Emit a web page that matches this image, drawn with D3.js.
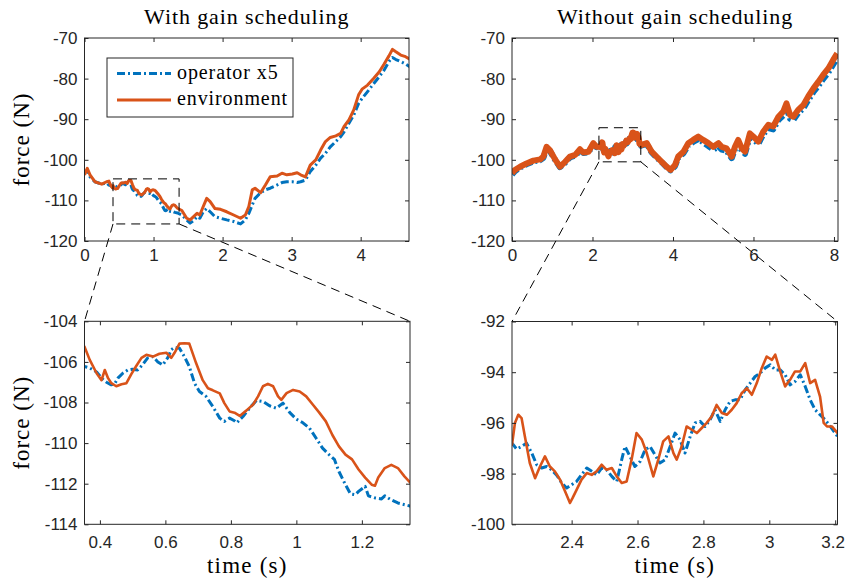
<!DOCTYPE html>
<html>
<head>
<meta charset="utf-8">
<script src="https://cdn.jsdelivr.net/npm/d3@7"></script>
<style>
body { margin: 0; background: #fff; }
svg { display: block; font-family: "Liberation Sans", Arial, sans-serif; }
.tex { font-family: "Liberation Serif", "Times New Roman", serif; fill: #000; }
</style>
</head>
<body>
<svg id="chart" width="846" height="581"></svg>
<script>
// ---- data (time s, force N) ----
const envWith = [[0,-103.7],[0.04,-102.1],[0.08,-103.7],[0.15,-105.4],[0.25,-106.0],[0.32,-105.4],
  [0.353,-105.25],[0.369,-105.9],[0.39,-106.56],[0.405,-106.9],[0.415,-106.4],[0.425,-106.8],[0.435,-107.05],
  [0.45,-107.2],[0.466,-107.1],[0.481,-107.05],[0.496,-106.6],[0.511,-106.2],[0.527,-105.8],[0.542,-105.65],
  [0.562,-105.74],[0.582,-105.6],[0.603,-105.55],[0.618,-105.8],[0.628,-105.55],[0.643,-105.1],[0.658,-105.08],
  [0.673,-105.1],[0.694,-106.07],[0.714,-106.9],[0.73,-107.3],[0.745,-107.4],[0.766,-107.55],[0.78,-108.03],
  [0.796,-108.44],[0.811,-108.5],[0.827,-108.66],[0.847,-108.4],[0.868,-108.1],[0.883,-107.7],[0.898,-107.2],
  [0.913,-107.08],[0.929,-107.2],[0.944,-107.7],[0.954,-107.87],[0.97,-107.54],[0.99,-107.38],[1.01,-107.46],
  [1.03,-107.7],[1.05,-108.1],[1.07,-108.5],[1.09,-108.93],[1.11,-109.6],[1.13,-110.16],[1.15,-110.57],
  [1.17,-110.8],[1.19,-111.3],[1.21,-111.7],[1.23,-112.05],[1.24,-112.1],[1.25,-111.7],[1.27,-111.23],
  [1.29,-111.07],[1.31,-111.23],[1.33,-111.64],[1.347,-111.93],
  [1.41,-112.5],[1.48,-114.4],[1.53,-114.8],[1.58,-114.0],[1.63,-113.2],[1.67,-113.6],[1.72,-111.5],[1.77,-109.5],
  [1.82,-110.3],[1.89,-112.0],[1.97,-112.2],[2.06,-112.8],[2.16,-113.6],[2.26,-114.4],[2.33,-113.6],[2.38,-111.5],
  [2.43,-107.4],[2.47,-107.0],[2.55,-108.1],[2.62,-106.2],[2.69,-104.2],[2.79,-104.0],[2.86,-103.3],[2.93,-103.7],
  [3.01,-103.5],[3.08,-103.2],[3.13,-103.7],[3.2,-104.2],[3.27,-101.3],[3.35,-100.0],[3.42,-97.6],[3.49,-95.5],
  [3.56,-94.5],[3.64,-94.1],[3.71,-93.5],[3.76,-91.8],[3.83,-90.2],[3.9,-87.7],[3.97,-84.0],[4.02,-82.6],
  [4.1,-81.6],[4.19,-79.9],[4.27,-78.3],[4.34,-76.4],[4.41,-74.4],[4.46,-72.8],[4.51,-73.4],[4.58,-74.2],
  [4.65,-74.6],[4.72,-75.3]];

const opWith = [[0,-103.3],[0.04,-102.5],[0.08,-104.2],[0.15,-105.4],[0.25,-106.0],[0.32,-105.7],
  [0.353,-106.23],[0.369,-106.3],[0.39,-106.5],[0.405,-106.8],[0.42,-107.0],[0.435,-107.13],[0.445,-107.08],
  [0.455,-106.8],[0.47,-106.56],[0.485,-106.4],[0.5,-106.36],[0.515,-106.4],[0.53,-106.15],[0.546,-105.8],
  [0.562,-105.74],[0.577,-106.0],[0.592,-106.15],[0.607,-105.8],[0.618,-105.4],[0.628,-105.28],[0.643,-105.33],
  [0.658,-105.74],[0.673,-106.23],[0.689,-107.05],[0.704,-107.46],[0.724,-107.7],[0.745,-108.2],[0.766,-108.77],
  [0.78,-108.93],[0.796,-108.77],[0.811,-108.9],[0.818,-109.0],[0.837,-108.69],[0.857,-108.28],[0.878,-107.9],
  [0.898,-107.95],[0.918,-108.16],[0.939,-108.28],[0.959,-108.03],[0.98,-108.5],[1.0,-108.82],[1.02,-109.0],
  [1.04,-109.26],[1.06,-109.75],[1.08,-110.25],[1.1,-110.57],[1.116,-110.8],[1.13,-111.4],[1.15,-112.05],
  [1.165,-112.5],[1.18,-112.54],[1.19,-112.38],[1.21,-112.13],[1.22,-112.6],[1.24,-112.7],[1.26,-112.75],
  [1.27,-112.6],[1.29,-112.8],[1.31,-112.95],[1.347,-113.1],
  [1.41,-113.6],[1.48,-114.8],[1.53,-115.6],[1.58,-115.0],[1.63,-114.0],[1.67,-114.4],[1.72,-112.8],[1.77,-112.0],
  [1.82,-112.8],[1.89,-114.0],[1.97,-114.4],[2.06,-114.8],[2.16,-115.2],[2.26,-115.8],[2.33,-114.8],[2.38,-113.2],
  [2.43,-111.1],[2.47,-109.5],[2.55,-108.1],[2.62,-107.4],[2.69,-107.0],[2.79,-106.2],[2.86,-105.6],[2.93,-105.4],
  [3.01,-105.4],[3.08,-105.6],[3.13,-105.4],[3.2,-105.0],[3.27,-102.9],[3.35,-101.3],[3.42,-99.6],[3.49,-98.4],
  [3.56,-96.8],[3.64,-95.5],[3.71,-94.3],[3.76,-93.1],[3.83,-91.0],[3.9,-89.0],[3.97,-86.1],[4.02,-84.9],
  [4.1,-83.2],[4.19,-81.2],[4.27,-79.5],[4.34,-77.9],[4.41,-75.8],[4.46,-74.8],[4.51,-75.3],[4.58,-75.8],
  [4.65,-76.4],[4.72,-77.2]];

const envWithout = [[0,-103.3],[0.07,-102.5],[0.2,-101.7],[0.36,-100.9],[0.53,-100.2],[0.7,-99.9],[0.78,-99.2],
  [0.86,-96.8],[0.94,-97.6],[1.07,-99.9],[1.19,-101.7],[1.32,-100.5],[1.44,-99.2],[1.57,-98.8],[1.69,-97.4],
  [1.77,-98.2],[1.9,-98.0],[2.02,-95.9],[2.1,-96.8],
  [2.219,-96.86],[2.228,-96.0],[2.238,-95.68],[2.248,-95.81],[2.258,-96.53],[2.273,-97.58],[2.289,-98.18],
  [2.304,-97.72],[2.319,-97.32],[2.334,-97.72],[2.349,-97.91],[2.365,-98.24],[2.38,-98.7],[2.395,-99.16],
  [2.403,-98.96],[2.415,-98.64],[2.43,-98.24],[2.446,-97.98],[2.461,-98.05],[2.476,-97.91],[2.491,-97.65],
  [2.506,-97.85],[2.522,-97.78],[2.537,-98.11],[2.552,-98.37],[2.567,-98.31],[2.582,-97.45],[2.597,-96.4],
  [2.613,-96.66],[2.628,-97.19],[2.648,-98.11],[2.663,-97.45],[2.678,-96.73],[2.694,-96.53],[2.709,-97.19],
  [2.719,-97.45],[2.734,-96.93],[2.749,-96.14],[2.765,-96.27],[2.78,-96.4],[2.795,-96.2],[2.81,-96.0],
  [2.825,-95.75],[2.84,-95.29],[2.856,-95.61],[2.871,-95.68],[2.886,-95.48],[2.901,-95.22],[2.916,-94.83],
  [2.932,-94.63],[2.947,-94.89],[2.962,-94.43],[2.977,-93.84],[2.992,-93.38],[3.008,-93.51],[3.018,-93.31],
  [3.033,-93.97],[3.048,-94.56],[3.063,-94.3],[3.078,-93.97],[3.094,-93.97],[3.109,-93.64],[3.124,-94.43],
  [3.139,-94.3],[3.154,-94.96],[3.165,-96.0],[3.175,-96.14],[3.19,-96.14],[3.207,-96.4],
  [3.35,-95.9],[3.47,-98.0],[3.59,-99.2],[3.72,-100.5],[3.84,-101.7],[3.94,-102.5],[4.05,-101.3],[4.13,-99.2],
  [4.26,-98.0],[4.38,-95.9],[4.5,-95.1],[4.63,-94.3],[4.75,-95.1],[4.88,-95.9],[5.0,-96.8],[5.13,-95.9],
  [5.21,-96.8],[5.33,-97.2],[5.46,-99.2],[5.54,-96.8],[5.62,-95.1],[5.71,-97.2],[5.79,-98.0],[5.91,-93.5],
  [6.0,-94.3],[6.12,-95.5],[6.24,-93.1],[6.37,-91.4],[6.49,-91.8],[6.62,-89.4],[6.74,-88.1],[6.82,-86.1],
  [6.91,-89.0],[6.99,-89.4],[7.11,-87.7],[7.24,-86.5],[7.36,-84.4],[7.49,-82.4],[7.61,-80.8],[7.73,-79.1],
  [7.86,-77.5],[7.98,-75.4],[8.08,-73.8]];

const opWithout = [[0,-103.6],[0.07,-102.8],[0.2,-101.9],[0.36,-101.1],[0.53,-100.4],[0.7,-100.1],[0.78,-99.5],
  [0.86,-97.2],[0.94,-97.8],[1.07,-100.0],[1.19,-101.8],[1.32,-100.7],[1.44,-99.4],[1.57,-99.0],[1.69,-97.7],
  [1.77,-98.3],[1.9,-98.2],[2.02,-96.2],[2.1,-96.9],
  [2.219,-96.8],[2.233,-97.03],[2.248,-96.93],[2.263,-96.8],[2.279,-97.19],[2.294,-97.65],[2.309,-97.78],
  [2.324,-97.72],[2.339,-97.85],[2.354,-98.05],[2.37,-98.37],[2.385,-98.57],[2.4,-98.44],[2.415,-98.31],
  [2.43,-98.05],[2.446,-97.78],[2.461,-97.91],[2.476,-98.05],[2.491,-97.78],[2.506,-97.85],[2.522,-98.11],
  [2.537,-98.31],[2.552,-97.45],[2.562,-96.93],[2.577,-97.32],[2.592,-97.72],[2.608,-97.52],[2.623,-97.06],
  [2.638,-96.93],[2.653,-97.26],[2.668,-97.58],[2.684,-97.45],[2.699,-96.93],[2.714,-96.4],[2.729,-96.66],
  [2.744,-97.19],[2.76,-96.53],[2.775,-96.0],[2.79,-95.94],[2.805,-96.14],[2.82,-95.88],[2.835,-95.48],
  [2.851,-95.94],[2.866,-95.48],[2.881,-95.15],[2.896,-95.09],[2.911,-95.09],[2.927,-94.69],[2.942,-94.43],
  [2.957,-94.17],[2.972,-94.04],[2.987,-93.84],[3.003,-93.71],[3.018,-93.91],[3.033,-93.91],[3.048,-94.1],
  [3.063,-94.5],[3.078,-94.37],[3.094,-94.1],[3.109,-94.56],[3.124,-95.09],[3.139,-95.48],[3.154,-95.68],
  [3.17,-95.88],[3.185,-96.14],[3.207,-96.53],
  [3.35,-96.1],[3.47,-98.2],[3.59,-99.4],[3.72,-100.6],[3.84,-101.8],[3.94,-102.6],[4.05,-101.6],[4.13,-99.5],
  [4.26,-98.4],[4.38,-96.4],[4.5,-95.6],[4.63,-94.9],[4.75,-95.7],[4.88,-96.6],[5.0,-97.5],[5.13,-96.7],
  [5.21,-97.5],[5.33,-97.8],[5.46,-99.6],[5.54,-97.4],[5.62,-95.7],[5.71,-97.8],[5.79,-98.5],[5.91,-94.2],
  [6.0,-94.9],[6.12,-96.1],[6.24,-93.8],[6.37,-92.2],[6.49,-92.5],[6.62,-90.2],[6.74,-89.1],[6.82,-87.2],
  [6.91,-89.9],[6.99,-90.2],[7.11,-88.5],[7.24,-87.3],[7.36,-85.3],[7.49,-83.3],[7.61,-81.8],[7.73,-80.1],
  [7.86,-78.5],[7.98,-76.5],[8.08,-74.9]];

// axis limits and ticks
const xLimWith = [0, 4.7];
const xLimWithout = [0, 8.1];
const yLimFull = [-120, -70];
const xLimZoomWith = [0.353, 1.347];
const yLimZoomWith = [-114, -104];
const xLimZoomWithout = [2.219, 3.207];
const yLimZoomWithout = [-100, -92];

const xTicksWith = [0, 1, 2, 3, 4];
const xTicksWithout = [0, 2, 4, 6, 8];
const yTicksFull = [-120, -110, -100, -90, -80, -70];
const xTicksZoomWith = [0.4, 0.6, 0.8, 1, 1.2];
const yTicksZoomWith = [-114, -112, -110, -108, -106, -104];
const xTicksZoomWithout = [2.4, 2.6, 2.8, 3, 3.2];
const yTicksZoomWithout = [-100, -98, -96, -94, -92];

// dashed zoom boxes drawn on the upper plots
const boxWith = { x: [0.413, 1.37], y: [-115.8, -104.7] };
const boxWithout = { x: [2.16, 3.2], y: [-100.5, -92.1] };

const seriesNames = ["operator x5", "environment"];
const titles = ["With gain scheduling", "Without gain scheduling"];

const BLUE = "#0072BD", ORANGE = "#D95319", AX = "#262626";
const W = 846;

const svg = d3.select("#chart");
const fmt = d => String(+(+d).toFixed(2));

function panel(id, box, xLim, yLim, xTicks, yTicks, op, env, opts) {
    const x = d3.scaleLinear().domain(xLim).range([box.left, box.right]);
    const y = d3.scaleLinear().domain(yLim).range([box.bottom, box.top]);
    const g = svg.append("g").attr("class", "panel-" + id);

    g.append("clipPath").attr("id", "clip-" + id)
        .append("rect")
        .attr("x", box.left).attr("y", box.top)
        .attr("width", box.right - box.left).attr("height", box.bottom - box.top);

    const line = d3.line().x(d => x(d[0])).y(d => y(d[1]));
    const lines = g.append("g").attr("clip-path", `url(#clip-${id})`);
    lines.append("path").datum(op)
        .attr("d", line).attr("fill", "none")
        .attr("stroke", BLUE).attr("stroke-width", opts.opWidth)
        .attr("stroke-dasharray", opts.dash).attr("stroke-linejoin", "round");
    lines.append("path").datum(env)
        .attr("d", line).attr("fill", "none")
        .attr("stroke", ORANGE).attr("stroke-width", opts.envWidth)
        .attr("stroke-linejoin", "round");

    // MATLAB-like boxed axes, ticks pointing inward on all sides
    const tick = 4;
    const axes = [
        [d3.axisBottom(x).tickValues(xTicks).tickFormat(fmt).tickPadding(opts.xPad), `translate(0,${box.bottom})`],
        [d3.axisTop(x).tickValues(xTicks).tickFormat(""), `translate(0,${box.top})`],
        [d3.axisLeft(y).tickValues(yTicks).tickFormat(fmt).tickPadding(7), `translate(${box.left},0)`],
        [d3.axisRight(y).tickValues(yTicks).tickFormat(""), `translate(${box.right},0)`]
    ];
    axes.forEach(([ax, tr]) => {
        const a = g.append("g").attr("transform", tr)
            .call(ax.tickSizeInner(-tick).tickSizeOuter(0));
        a.select(".domain").remove();
        a.selectAll("line").attr("stroke", AX);
        a.selectAll("text").attr("fill", AX).style("font-size", "17px");
    });
    g.append("rect")
        .attr("x", box.left).attr("y", box.top)
        .attr("width", box.right - box.left).attr("height", box.bottom - box.top)
        .attr("fill", "none").attr("stroke", AX).attr("stroke-width", 1);

    // keep the last x label inside the page (it sits right at the edge)
    g.selectAll(".tick text").each(function () {
        const bb = this.getBBox();
        const tx = +this.parentNode.getAttribute("transform").match(/translate\(([-\d.]+)/)[1];
        const over = tx + bb.x + bb.width - (W - 1);
        if (over > 0) d3.select(this).attr("dx", -over);
    });

    return { x, y, box, g };
}

const tl = panel("tl", { left: 84.5, right: 409, top: 38, bottom: 241 }, xLimWith, yLimFull,
    xTicksWith, yTicksFull, opWith, envWith, { opWidth: 3, envWidth: 3, dash: "8,3,2,3", xPad: 8 });
const tr = panel("tr", { left: 512, right: 838, top: 38, bottom: 241 }, xLimWithout, yLimFull,
    xTicksWithout, yTicksFull, opWithout, envWithout, { opWidth: 6, envWidth: 6, dash: "8,3,2,3", xPad: 8 });
const bl = panel("bl", { left: 84.5, right: 410, top: 321.3, bottom: 524.3 }, xLimZoomWith, yLimZoomWith,
    xTicksZoomWith, yTicksZoomWith, opWith, envWith, { opWidth: 3, envWidth: 2.6, dash: "8,3,2,3", xPad: 12 });
const br = panel("br", { left: 512, right: 837.5, top: 321.5, bottom: 524.3 }, xLimZoomWithout, yLimZoomWithout,
    xTicksZoomWithout, yTicksZoomWithout, opWithout, envWithout, { opWidth: 3, envWidth: 2.6, dash: "8,3,2,3", xPad: 12 });

// titles and axis labels
[[tl, titles[0]], [tr, titles[1]]].forEach(([p, t]) => {
    svg.append("text").attr("class", "tex")
        .attr("x", (p.box.left + p.box.right) / 2).attr("y", 24)
        .attr("text-anchor", "middle").style("font-size", "22px").style("letter-spacing", "0.9px")
        .text(t);
});
[tl, bl].forEach(p => {
    svg.append("text").attr("class", "tex")
        .attr("transform", `translate(29,${(p.box.top + p.box.bottom) / 2}) rotate(-90)`)
        .attr("text-anchor", "middle").style("font-size", "23px").style("letter-spacing", "1px")
        .text("force (N)");
});
[bl, br].forEach(p => {
    svg.append("text").attr("class", "tex")
        .attr("x", (p.box.left + p.box.right) / 2).attr("y", 573)
        .attr("text-anchor", "middle").style("font-size", "23px").style("letter-spacing", "1.2px")
        .text("time (s)");
});

// legend (upper-left plot)
const leg = svg.append("g");
leg.append("rect").attr("x", 107).attr("y", 58).attr("width", 186).attr("height", 59)
    .attr("fill", "#fff").attr("stroke", AX).attr("stroke-width", 1);
[[BLUE, "8,3,2,3", 3], [ORANGE, null, 3]].forEach(([c, dash, w], i) => {
    const yy = 73.5 + i * 26.5;
    leg.append("line").attr("x1", 117).attr("x2", 171).attr("y1", yy).attr("y2", yy)
        .attr("stroke", c).attr("stroke-width", w).attr("stroke-dasharray", dash);
    leg.append("text").attr("class", "tex").attr("x", 177).attr("y", yy + 5)
        .style("font-size", "20px").style("letter-spacing", "0.9px")
        .text(seriesNames[i]);
});

// dashed zoom boxes and connector lines
const overlay = svg.append("g").attr("fill", "none").attr("stroke", "#000")
    .attr("stroke-width", 1).attr("stroke-dasharray", "9,6");
[[tl, bl, boxWith], [tr, br, boxWithout]].forEach(([top, bot, b]) => {
    const x0 = top.x(b.x[0]), x1 = top.x(b.x[1]);
    const y0 = top.y(b.y[1]), y1 = top.y(b.y[0]);
    overlay.append("rect").attr("x", x0).attr("y", y0).attr("width", x1 - x0).attr("height", y1 - y0);
    overlay.append("line").attr("x1", x0).attr("y1", y1).attr("x2", bot.box.left).attr("y2", bot.box.top);
    overlay.append("line").attr("x1", x1).attr("y1", y1).attr("x2", bot.box.right).attr("y2", bot.box.top);
});
</script>
</body>
</html>
